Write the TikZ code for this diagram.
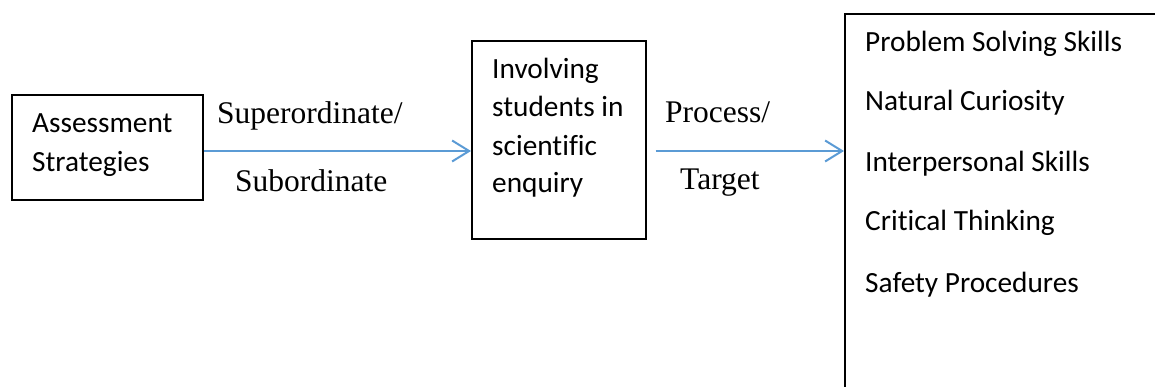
\documentclass[tikz,border=0pt]{standalone}
\usepackage{fontspec}
\usetikzlibrary{arrows.meta}
\newfontfamily\calfont[Ligatures=NoCommon]{Carlito}
\newfontfamily\serfont{Liberation Serif}
\definecolor{arrblue}{HTML}{5B9BD5}
\tikzset{
  boxnode/.style={draw=black, line width=1.7pt, rectangle, inner sep=0pt, anchor=north west},
  boxtext/.style={anchor=base west, inner sep=0pt, font=\calfont\fontsize{29.3}{34}\selectfont},
  lbltext/.style={anchor=base west, inner sep=0pt, font=\serfont\fontsize{31.5}{36}\selectfont},
  arr/.style={draw=arrblue, line width=2pt, -{Straight Barb[length=17pt,width=21pt]}}
}
\begin{document}
\begin{tikzpicture}[x=1pt,y=-1pt]
\useasboundingbox (0,0) rectangle (1155,387);
\clip (0,0) rectangle (1155,387);
% boxes
\node[boxnode, minimum width=191pt, minimum height=105pt] (lbox) at (11,94) {};
\node[boxnode, minimum width=174pt, minimum height=198pt] (mbox) at (471,40) {};
\node[boxnode, minimum width=400pt, minimum height=450pt] (rbox) at (844,13) {};
% left box text
\node[boxtext] (t1) at (32,133) {Assessment};
\node[boxtext] (t2) at (32,172) {Strategies};
% middle box text
\node[boxtext] (m1) at (492,79) {Involving};
\node[boxtext] (m2) at (492,117) {students in};
\node[boxtext] (m3) at (492,156) {scientific};
\node[boxtext] (m4) at (492,193) {enquiry};
% right box text
\node[boxtext] (r1) at (865,52) {Problem Solving Skills};
\node[boxtext] (r2) at (865,111) {Natural Curiosity};
\node[boxtext] (r3) at (865,172) {Interpersonal Skills};
\node[boxtext] (r4) at (865,230) {Critical Thinking};
\node[boxtext] (r5) at (865,292) {Safety Procedures};
% labels
\node[lbltext] (l1) at (217,124) {Superordinate/};
\node[lbltext] (l2) at (235,192) {Subordinate};
\node[lbltext] (l3) at (665,123) {Process/};
\node[lbltext] (l4) at (680,190) {Target};
% connectors
\draw[arr] (lbox.east |- 0,151) -- (mbox.west |- 0,151);
\draw[arr, shorten <=9pt] (mbox.east |- 0,151) -- (rbox.west |- 0,151);
\end{tikzpicture}
\end{document}
